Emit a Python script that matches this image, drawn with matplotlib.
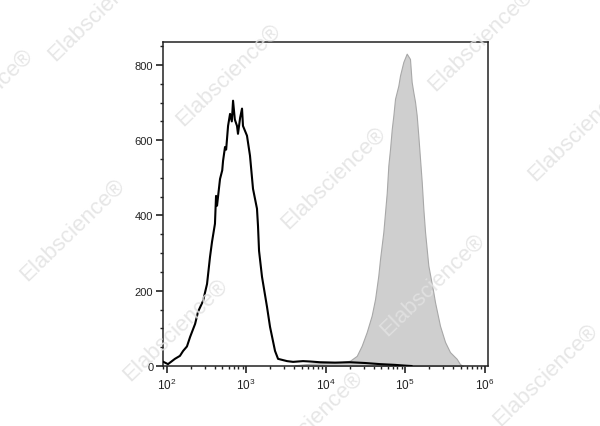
import numpy as np
import matplotlib.pyplot as plt
from matplotlib.ticker import LogLocator, MultipleLocator, NullFormatter

plt.rcParams['font.family'] = ['Liberation Sans', 'DejaVu Sans']
plt.rcParams['mathtext.default'] = 'regular'

# Unstained / isotype control (black outline)
ctrl_x = [91, 104, 127, 147, 161, 180, 197, 228, 248, 287, 322, 351, 372, 405, 418,
          430, 469, 500, 512, 542, 560, 592, 627, 660, 684, 720, 767, 789, 840, 887,
          912, 1024, 1117, 1219, 1368, 1409, 1452, 1582, 1829, 1996, 2307, 2518,
          3268, 3890, 5190, 6350, 8490, 13100, 20200, 31300, 48300, 74500, 99600, 120000]
ctrl_y = [11, 5, 19, 27, 40, 52, 77, 112, 144, 173, 218, 290, 330, 378, 452,
          426, 497, 520, 545, 582, 575, 638, 670, 650, 705, 655, 638, 617, 660, 684,
          638, 612, 559, 471, 418, 372, 306, 237, 157, 104, 40, 19,
          13, 11, 13, 12, 10, 9, 10, 8, 5, 3, 1, 0]

# Stained sample (grey filled)
stain_x = [4110, 6350, 9820, 15140, 20200, 24600, 28400, 32800, 37900, 41800, 45900,
           48300, 53100, 58600, 61400, 64500, 67800, 71000, 74500, 82000, 86100, 94800,
           104500, 114900, 120600, 126500, 133000, 139600, 146300, 153800, 161500,
           169200, 177800, 195500, 226000, 237000, 274000, 317000, 366000, 445000,
           489000, 534000]
stain_y = [2, 6, 8, 10, 14, 27, 54, 90, 134, 178, 240,
           285, 356, 460, 533, 577, 630, 666, 710, 745, 772, 808,
           830, 816, 755, 728, 702, 666, 612, 550, 489,
           418, 356, 267, 196, 170, 107, 64, 37, 19,
           5, 0]

fig = plt.figure(figsize=(6, 4.27), dpi=100)
ax = fig.add_axes([0.2717, 0.1405, 0.5416, 0.7588])

ax.fill_between(stain_x, stain_y, color='#cfcfcf', edgecolor='#a8a8a8', linewidth=0.8, zorder=2)
ax.plot(ctrl_x, ctrl_y, color='black', linewidth=1.5, zorder=4)

ax.set_xscale('log')
ax.set_xlim(90, 1.1e6)
ax.set_ylim(0, 861)

ax.xaxis.set_major_locator(LogLocator(base=10, numticks=10))
ax.xaxis.set_minor_locator(LogLocator(base=10, subs=np.arange(2, 10), numticks=50))
ax.xaxis.set_minor_formatter(NullFormatter())
ax.yaxis.set_major_locator(MultipleLocator(200))
ax.yaxis.set_minor_locator(MultipleLocator(50))

ax.tick_params(axis='both', which='major', length=5, width=1.2, color='#222222',
               labelsize=8, labelcolor='#222222', pad=2)
ax.tick_params(axis='both', which='minor', length=2.5, width=1.0, color='#222222')
ax.tick_params(axis='x', labelsize=8.5, pad=3)
for s in ax.spines.values():
    s.set_linewidth(1.1)
    s.set_color('#222222')

# watermark
marks = [(100, 10), (228, 75), (480, 40), (-20, 100), (333, 178), (580, 130),
         (72, 230), (432, 285), (175, 330), (545, 375), (310, 422)]
for px, py in marks:
    fig.text(px / 600, 1 - py / 427, 'Elabscience\u00ae', rotation=44,
             ha='center', va='center', fontsize=16,
             color='#e2e2e2', alpha=0.85, zorder=3)

plt.savefig('out.png')
